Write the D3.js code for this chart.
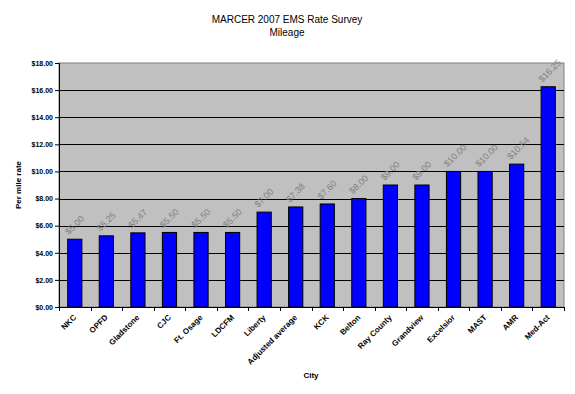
<!DOCTYPE html>
<html lang="en">
<head>
  <script src="https://cdn.jsdelivr.net/npm/d3@7"></script>
  <style>
    body { margin: 0; background: #fff; }
    text { font-family: "Liberation Sans", Arial, sans-serif; }
  </style>
</head>
<body>
  <script>
    var cities = ["NKC", "OPFD", "Gladstone", "CJC", "Ft. Osage", "LDCFM", "Liberty",
                  "Adjusted average", "KCK", "Belton", "Ray County", "Grandview",
                  "Excelsior", "MAST", "AMR", "Med-Act"];
    var rates = [5.00, 5.25, 5.47, 5.50, 5.50, 5.50, 7.00, 7.38, 7.60, 8.00, 9.00, 9.00,
                 10.00, 10.00, 10.54, 16.25];
    var yTicks = [0, 2, 4, 6, 8, 10, 12, 14, 16, 18];

    var w = 575, h = 394;
    var margin = { top: 63, left: 59, right: 11, bottom: 87 };
    var width = w - margin.left - margin.right;
    var height = h - margin.top - margin.bottom;

    var svg = d3.select("body").append("svg")
                .attr("width", w)
                .attr("height", h);

    svg.append("text")
       .attr("x", 287).attr("y", 23)
       .attr("text-anchor", "middle")
       .style("font-size", "10px")
       .text("MARCER 2007 EMS Rate Survey");
    svg.append("text")
       .attr("x", 287).attr("y", 36)
       .attr("text-anchor", "middle")
       .style("font-size", "10px")
       .text("Mileage");

    var chart = svg.append("g")
                   .attr("transform", "translate(" + margin.left + "," + margin.top + ")");

    var x = d3.scaleBand()
              .domain(cities)
              .range([0, width])
              .paddingInner(0.55)
              .paddingOuter(0.275);
    var y = d3.scaleLinear()
              .domain([0, 18])
              .range([height, 0]);

    // plot background
    chart.append("rect")
         .attr("width", width)
         .attr("height", height)
         .attr("fill", "#c0c0c0")
         .attr("stroke", "#808080")
         .attr("stroke-width", 1);

    // gridlines
    chart.selectAll(".grid")
         .data(yTicks.slice(1, -1))
         .enter()
           .append("line")
           .attr("x1", 0).attr("x2", width)
           .attr("y1", function(d) { return Math.round(y(d)) + 0.5; })
           .attr("y2", function(d) { return Math.round(y(d)) + 0.5; })
           .attr("stroke", "#000")
           .attr("stroke-width", 1);

    // bars
    chart.selectAll(".bar")
         .data(rates)
         .enter()
           .append("rect")
           .attr("x", function(d, i) { return x(cities[i]); })
           .attr("y", function(d) { return y(d); })
           .attr("width", x.bandwidth())
           .attr("height", function(d) { return height - y(d); })
           .attr("fill", "#0000ff")
           .attr("stroke", "#000")
           .attr("stroke-width", 1);

    // value labels
    chart.selectAll(".val")
         .data(rates)
         .enter()
           .append("text")
           .attr("transform", function(d, i) {
             var cx = x(cities[i]) + x.bandwidth() / 2 - 6;
             return "translate(" + cx + "," + (y(d) - 4) + ") rotate(-45)";
           })
           .attr("fill", "#808080")
           .style("font-size", "9px")
           .text(function(d) { return "$" + d.toFixed(2); });

    // y axis
    var yAxis = d3.axisLeft(y)
                  .tickValues(yTicks)
                  .tickSize(4)
                  .tickFormat(function(d) { return "$" + d.toFixed(2); });
    var gy = chart.append("g").call(yAxis);
    gy.select(".domain").attr("stroke", "#000");
    gy.selectAll("text")
      .style("font-size", "7px")
      .style("font-weight", "bold")
      .attr("x", -6);

    // x axis: ticks at band boundaries
    var gx = chart.append("g")
                  .attr("transform", "translate(0," + height + ")");
    gx.append("line")
      .attr("x1", 0).attr("x2", width)
      .attr("y1", 0.5).attr("y2", 0.5)
      .attr("stroke", "#000");
    gx.selectAll(".tick")
      .data(d3.range(cities.length + 1))
      .enter()
        .append("line")
        .attr("x1", function(i) { return Math.round(i * x.step()) + 0.5; })
        .attr("x2", function(i) { return Math.round(i * x.step()) + 0.5; })
        .attr("y1", 0).attr("y2", 4)
        .attr("stroke", "#000");
    gx.selectAll(".lbl")
      .data(cities)
      .enter()
        .append("text")
        .attr("transform", function(d) {
          return "translate(" + (x(d) + x.bandwidth() / 2 + 2) + ",11) rotate(-45)";
        })
        .attr("text-anchor", "end")
        .style("font-size", "8px")
        .style("font-weight", "bold")
        .text(function(d) { return d; });

    svg.append("text")
       .attr("transform", "translate(21," + (margin.top + height / 2) + ") rotate(-90)")
       .attr("text-anchor", "middle")
       .style("font-size", "8px")
       .style("font-weight", "bold")
       .text("Per mile rate");

    svg.append("text")
       .attr("x", 311).attr("y", 378)
       .attr("text-anchor", "middle")
       .style("font-size", "8px")
       .style("font-weight", "bold")
       .text("City");
  </script>
</body>
</html>
